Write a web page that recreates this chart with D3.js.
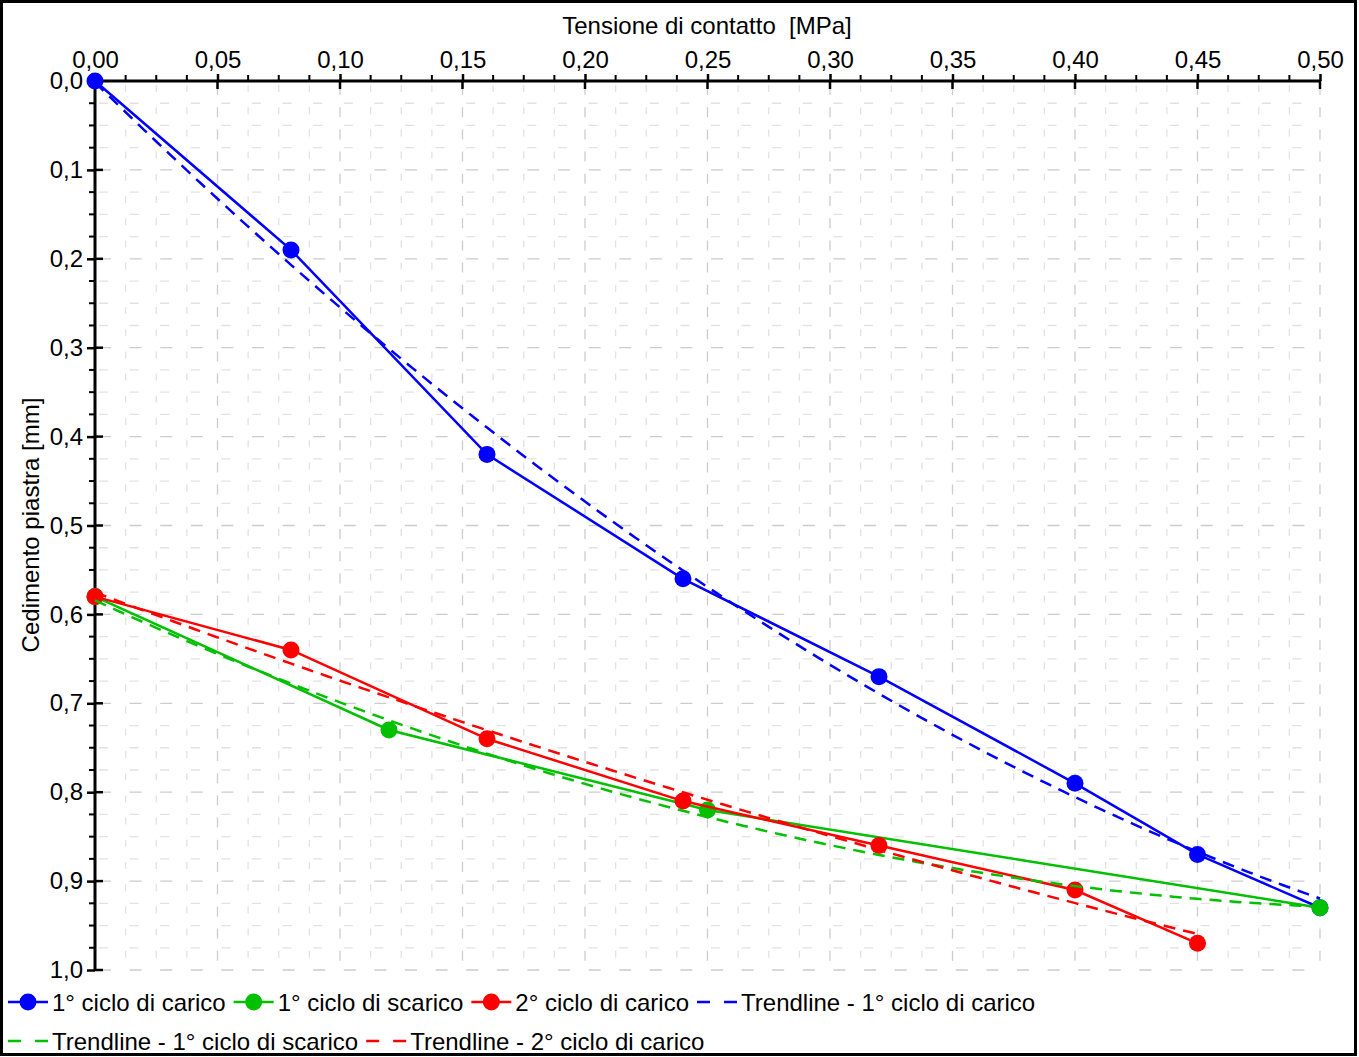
<!DOCTYPE html>
<html>
<head>
<meta charset="utf-8">
<script src="https://cdn.jsdelivr.net/npm/d3@7"></script>
<style>
  html, body { margin: 0; padding: 0; background: #fff; }
  svg { display: block; font-family: "Liberation Sans", Arial, sans-serif; }
</style>
</head>
<body>
<svg id="chart" width="1359" height="1057"></svg>
<script>
// ---- Data ----
const xTitle = "Tensione di contatto  [MPa]";
const yTitle = "Cedimento piastra [mm]";
const xTickValues = [0, 0.05, 0.10, 0.15, 0.20, 0.25, 0.30, 0.35, 0.40, 0.45, 0.50];
const yTickValues = [0, 0.1, 0.2, 0.3, 0.4, 0.5, 0.6, 0.7, 0.8, 0.9, 1.0];

const carico1X = [0, 0.08, 0.16, 0.24, 0.32, 0.40, 0.45, 0.50];
const carico1Y = [0, 0.19, 0.42, 0.56, 0.67, 0.79, 0.87, 0.93];
const scarico1X = [0.50, 0.25, 0.12, 0.00];
const scarico1Y = [0.93, 0.82, 0.73, 0.58];
const carico2X = [0, 0.08, 0.16, 0.24, 0.32, 0.40, 0.45];
const carico2Y = [0.58, 0.64, 0.74, 0.81, 0.86, 0.91, 0.97];

const seriesNames = ["1° ciclo di carico", "1° ciclo di scarico", "2° ciclo di carico"];
const trendNames = ["Trendline - 1° ciclo di carico", "Trendline - 1° ciclo di scarico", "Trendline - 2° ciclo di carico"];
const seriesColors = ["#0000ff", "#00c000", "#ff0000"];

// ---- Layout ----
const svg = d3.select("#chart");
const W = 1359, H = 1057;
const plot = { left: 95, right: 1320, top: 81, bottom: 970 };
const FS = 24;

const x = d3.scaleLinear().domain([0, 0.5]).range([plot.left, plot.right]);
const y = d3.scaleLinear().domain([0, 1.0]).range([plot.top, plot.bottom]);

const fmtX = v => d3.format(".2f")(v).replace(".", ",");
const fmtY = v => d3.format(".1f")(v).replace(".", ",");

// outer border
svg.append("rect").attr("x", 1.5).attr("y", 1.5).attr("width", W - 5).attr("height", H - 4)
  .attr("fill", "#fff").attr("stroke", "#000").attr("stroke-width", 3);

// ---- Grid ----
const xMinor = d3.range(0, 0.5 + 1e-9, 0.0125);
const yMinor = d3.range(0, 1.0 + 1e-9, 0.025);
const isMajX = d => Math.abs(d / 0.05 - Math.round(d / 0.05)) < 1e-6;
const isMajY = d => Math.abs(d / 0.1 - Math.round(d / 0.1)) < 1e-6;
const grid = svg.append("g");
grid.selectAll("line.gx").data(xMinor).enter().append("line")
  .attr("x1", d => x(d)).attr("x2", d => x(d))
  .attr("y1", plot.top + 4).attr("y2", plot.bottom)
  .attr("stroke", d => isMajX(d) ? "#cccccc" : "#e2e2e2")
  .attr("stroke-width", 1.3)
  .attr("stroke-dasharray", d => isMajX(d) ? "10,12.2" : "7,15.2");
grid.selectAll("line.gy").data(yMinor).enter().append("line")
  .attr("y1", d => y(d)).attr("y2", d => y(d))
  .attr("x1", plot.left + 4).attr("x2", plot.right)
  .attr("stroke", d => isMajY(d) ? "#cccccc" : "#e2e2e2")
  .attr("stroke-width", 1.3)
  .attr("stroke-dasharray", d => isMajY(d) ? "12,18.6" : "9,21.6");

// ---- Axes ----
const axTop = svg.append("g").attr("transform", `translate(0,${plot.top})`)
  .call(d3.axisTop(x).tickValues(xTickValues).tickFormat(fmtX).tickSize(8).tickPadding(5));
axTop.selectAll("text").attr("font-size", FS).attr("fill", "#000").attr("font-family", "Liberation Sans, Arial, sans-serif");
axTop.select(".domain").attr("stroke-width", 3).attr("d", `M${plot.left},0H${plot.right}`);
axTop.selectAll(".tick line").attr("stroke-width", 2.5).attr("y2", -7);
svg.append("g").selectAll("line").data(xTickValues).enter().append("line")
  .attr("x1", d => x(d)).attr("x2", d => x(d)).attr("y1", plot.top).attr("y2", plot.top + 8)
  .attr("stroke", "#000").attr("stroke-width", 2.5);
svg.append("g").selectAll("line").data(xMinor.filter(d => !isMajX(d))).enter().append("line")
  .attr("x1", d => x(d)).attr("x2", d => x(d)).attr("y1", plot.top).attr("y2", plot.top - 6)
  .attr("stroke", "#000").attr("stroke-width", 2);

const axLeft = svg.append("g").attr("transform", `translate(${plot.left},0)`)
  .call(d3.axisLeft(y).tickValues(yTickValues).tickFormat(fmtY).tickSize(8).tickPadding(4));
axLeft.selectAll("text").attr("font-size", FS).attr("fill", "#000").attr("font-family", "Liberation Sans, Arial, sans-serif");
axLeft.select(".domain").attr("stroke-width", 3).attr("d", `M0,${plot.top}V${plot.bottom}`);
axLeft.selectAll(".tick line").attr("stroke-width", 2.5);
svg.append("g").selectAll("line").data(yTickValues).enter().append("line")
  .attr("y1", d => y(d)).attr("y2", d => y(d)).attr("x1", plot.left).attr("x2", plot.left + 8)
  .attr("stroke", "#000").attr("stroke-width", 2.5);
svg.append("g").selectAll("line").data(yMinor.filter(d => !isMajY(d))).enter().append("line")
  .attr("y1", d => y(d)).attr("y2", d => y(d)).attr("x1", plot.left).attr("x2", plot.left - 6)
  .attr("stroke", "#000").attr("stroke-width", 2);

// titles
svg.append("text").attr("x", 707).attr("y", 34).attr("text-anchor", "middle")
  .style("white-space", "pre").attr("xml:space", "preserve")
  .attr("font-size", FS).attr("fill", "#000").text(xTitle);
svg.append("text").attr("transform", `translate(39,525) rotate(-90)`).attr("text-anchor", "middle")
  .attr("font-size", FS).attr("fill", "#000").text(yTitle);

// ---- Series ----
const series = [
  { xs: carico1X, ys: carico1Y },
  { xs: scarico1X, ys: scarico1Y },
  { xs: carico2X, ys: carico2Y }
];

function polyfit2(xs, ys) {
  let S = [[0,0,0],[0,0,0],[0,0,0]], T = [0,0,0];
  for (let i = 0; i < xs.length; i++) {
    const p = [1, xs[i], xs[i]*xs[i]];
    for (let r = 0; r < 3; r++) { T[r] += p[r]*ys[i]; for (let c = 0; c < 3; c++) S[r][c] += p[r]*p[c]; }
  }
  const M = S.map((row, i) => row.concat([T[i]]));
  for (let i = 0; i < 3; i++) {
    let piv = i;
    for (let k = i+1; k < 3; k++) if (Math.abs(M[k][i]) > Math.abs(M[piv][i])) piv = k;
    [M[i], M[piv]] = [M[piv], M[i]];
    for (let k = 0; k < 3; k++) if (k !== i) {
      const f = M[k][i] / M[i][i];
      for (let c = i; c < 4; c++) M[k][c] -= f * M[i][c];
    }
  }
  return [M[0][3]/M[0][0], M[1][3]/M[1][1], M[2][3]/M[2][2]];
}

const line = d3.line().x(d => x(d[0])).y(d => y(d[1]));
const gSeries = svg.append("g");
series.forEach((s, i) => {
  const pts = s.xs.map((v, j) => [v, s.ys[j]]);
  gSeries.append("path").datum(pts).attr("d", line).attr("fill", "none")
    .attr("stroke", seriesColors[i]).attr("stroke-width", 2.5);
  gSeries.selectAll(null).data(pts).enter().append("circle")
    .attr("cx", d => x(d[0])).attr("cy", d => y(d[1])).attr("r", 8.5)
    .attr("fill", seriesColors[i]);
});
const gTrend = svg.append("g");
series.forEach((s, i) => {
  const [a, b, c] = polyfit2(s.xs, s.ys);
  const x0 = d3.min(s.xs), x1 = d3.max(s.xs);
  const pts = d3.range(0, 101).map(k => { const t = x0 + (x1 - x0) * k / 100; return [t, a + b*t + c*t*t]; });
  gTrend.append("path").datum(pts).attr("d", line).attr("fill", "none")
    .attr("stroke", seriesColors[i]).attr("stroke-width", 2.5).attr("stroke-dasharray", "12,8");
});

// ---- Legend ----
const legendItems = [
  { name: seriesNames[0], color: seriesColors[0], dashed: false },
  { name: seriesNames[1], color: seriesColors[1], dashed: false },
  { name: seriesNames[2], color: seriesColors[2], dashed: false },
  { name: trendNames[0], color: seriesColors[0], dashed: true },
  { name: trendNames[1], color: seriesColors[1], dashed: true },
  { name: trendNames[2], color: seriesColors[2], dashed: true }
];
const gLeg = svg.append("g");
let lx = 8, ly = 1002;
const rowH = 39, maxX = 1345;
legendItems.forEach(it => {
  const g = gLeg.append("g");
  const t = g.append("text").attr("font-size", FS).attr("fill", "#000").text(it.name);
  const tw = t.node().getComputedTextLength();
  if (lx + 44 + tw > maxX) { lx = 8; ly += rowH; }
  g.attr("transform", `translate(${lx},${ly})`);
  g.append("line").attr("x1", 0).attr("x2", 40).attr("y1", 0).attr("y2", 0)
    .attr("stroke", it.color).attr("stroke-width", 2.5)
    .attr("stroke-dasharray", it.dashed ? "13,14" : null);
  if (!it.dashed) g.append("circle").attr("cx", 20).attr("cy", 0).attr("r", 8.5).attr("fill", it.color);
  t.attr("x", 44).attr("y", 8.5);
  lx += 44 + tw + 8;
});
</script>
</body>
</html>
